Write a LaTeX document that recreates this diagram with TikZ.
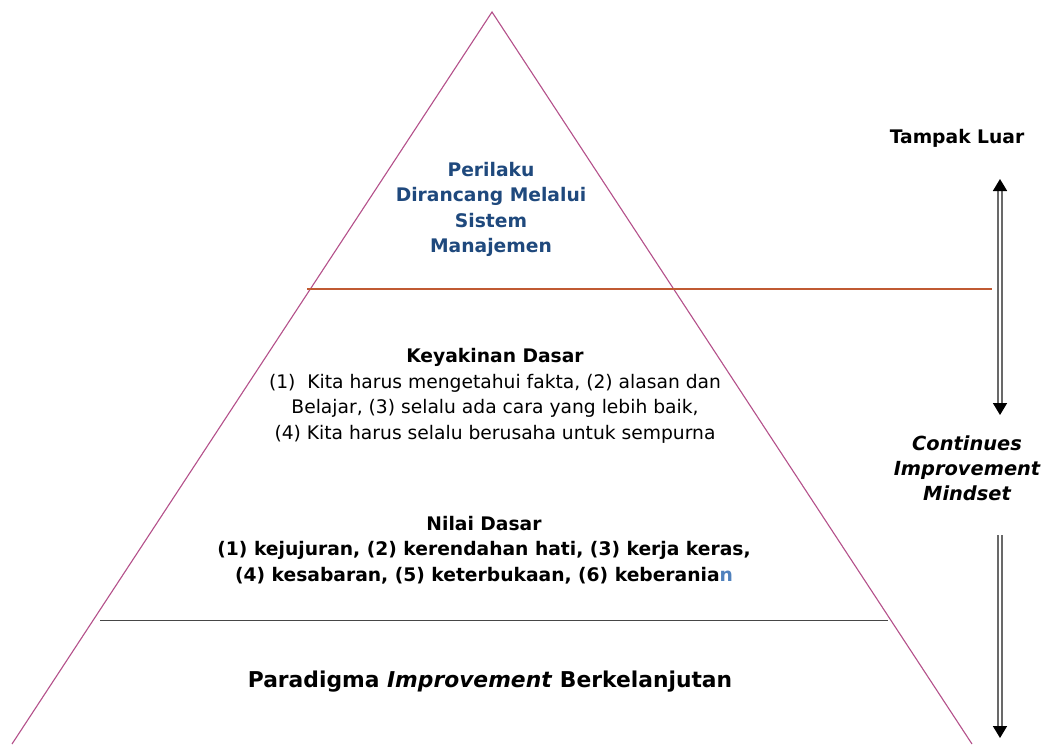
\documentclass[tikz,border=0pt]{standalone}
\usepackage{fontspec}
\setmainfont{DejaVu Sans}
\usetikzlibrary{arrows.meta}
\definecolor{pyramid}{RGB}{180,80,138}
\definecolor{rulebrown}{RGB}{192,90,50}
\definecolor{rulegray}{RGB}{70,70,70}
\definecolor{titleblue}{RGB}{31,73,125}
\definecolor{accentblue}{RGB}{79,129,189}
\definecolor{shaftgray}{RGB}{105,105,105}
\tikzset{
  txt/.style={inner sep=0pt, align=center, font=\fontsize{18.7}{25.5}\selectfont},
  bold/.style={txt, font=\fontsize{18.7}{25.5}\selectfont\bfseries},
  shaft/.style={draw=shaftgray, double=white, double distance=1.8pt, line width=1.7pt},
  flow/.style={shaft,
    {Triangle[black,width=14pt,length=12pt]}-{Triangle[black,width=14pt,length=12pt]}},
  flowdown/.style={shaft, -{Triangle[black,width=14pt,length=12pt]}}
}
\begin{document}
\begin{tikzpicture}[x=1pt,y=-1pt]
\useasboundingbox[fill=white] (0,0) rectangle (1048,744);
% pyramid outline
\coordinate (apex) at (492,12);
\coordinate (baseL) at (12,744);
\coordinate (baseR) at (972,744);
\draw[pyramid, line width=1.1pt] (baseL) -- (apex) -- (baseR);
% layer boundaries
\coordinate (r1a) at (307,289);
\coordinate (r1b) at (992,289);
\coordinate (r2a) at (100,620);
\coordinate (r2b) at (888,620);
\draw[rulebrown, line width=1.2pt] (r1a) -- (r1b);
\draw[rulegray, line width=1pt] (r2a) -- (r2b);
% layer texts
\node[bold, text=titleblue] (top) at (491,209.5)
  {Perilaku\\Dirancang Melalui\\Sistem\\Manajemen};
\node[txt] (belief) at (495,396)
  {\textbf{Keyakinan Dasar}\\(1)\ \ Kita harus mengetahui fakta, (2) alasan dan\\Belajar, (3) selalu ada cara yang lebih baik,\\(4) Kita harus selalu berusaha untuk sempurna};
\node[bold] (values) at (484,550)
  {Nilai Dasar\\(1) kejujuran, (2) kerendahan hati, (3) kerja keras,\\(4) kesabaran, (5) keterbukaan, (6) keberania\textcolor{accentblue}{n}};
\node[txt, font=\fontsize{21.8}{25}\selectfont\bfseries] (base) at (490,682)
  {Paradigma \textit{Improvement} Berkelanjutan};
% side labels and arrows
\node[bold] (outer) at (957,138) {Tampak Luar};
\node[bold, font=\fontsize{19.4}{25}\selectfont\bfseries\itshape] (mind) at (967,468)
  {Continues\\Improvement\\Mindset};
\coordinate (a1top) at (1000,179);
\coordinate (a1bot) at (1000,415);
\coordinate (a2top) at (1000,535);
\coordinate (a2bot) at (1000,738);
\draw[flow] (a1top) -- (a1bot);
\draw[flowdown] (a2top) -- (a2bot);
\end{tikzpicture}
\end{document}
